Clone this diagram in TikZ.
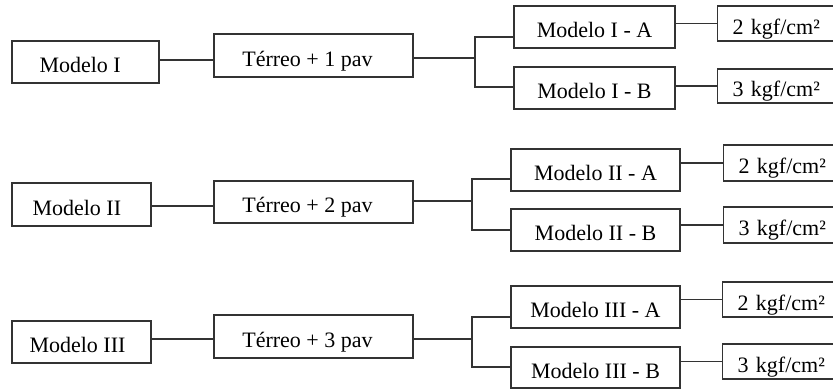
\documentclass[tikz,border=0pt]{standalone}
\usepackage{fontspec}
\setmainfont{Liberation Serif}
\begin{document}
\begin{tikzpicture}[x=0.75pt,y=-0.75pt,
  box/.style={draw=black!80,line width=0.9pt,fill=white,inner sep=0pt,
    text height=15.75pt,text depth=0pt,
    font=\fontsize{16.5}{19}\selectfont},
  kbox/.style={box,anchor=west,text width=100*0.75pt,inner xsep=15*0.75pt,align=left},
  conn/.style={draw=black!80,line width=0.9pt}]
\useasboundingbox (0,0) rectangle (833,390);
\clip (0,0) rectangle (833,390);
% Row 1
\node[box,minimum width=147*0.75pt,minimum height=42*0.75pt] (m1) at (85.5,62) {Modelo I\kern8pt};
\node[box,minimum width=199*0.75pt,minimum height=43*0.75pt] (t1) at (313.5,55.5) {Térreo + 1 pav\kern9pt};
\node[box,minimum width=161*0.75pt,minimum height=42*0.75pt] (a1) at (594.5,27) {Modelo I - A};
\node[box,minimum width=161*0.75pt,minimum height=42*0.75pt] (b1) at (594.5,88) {Modelo I - B};
\node[kbox,minimum height=35*0.75pt] (p1) at (717,23.5) {2 kgf/cm²};
\node[kbox,minimum height=34*0.75pt] (q1) at (717,86) {3 kgf/cm²};
\coordinate (j1) at (475,58);
\coordinate (ja1) at (475,37);
\coordinate (jb1) at (475,87);
\coordinate (c1) at (159,60);
\draw[conn] (c1) -- (c1 -| t1.west);
\draw[conn] (j1 -| t1.east) -- (j1);
\draw[conn] (a1.west |- ja1) -- (ja1) -- (jb1) -- (b1.west |- jb1);
\draw[conn] (p1.west -| a1.east) -- (p1.west);
\draw[conn] (q1.west -| b1.east) -- (q1.west);
% Row 2
\node[box,minimum width=139*0.75pt,minimum height=43*0.75pt] (m2) at (81.5,204.5) {Modelo II\kern7pt};
\node[box,minimum width=199*0.75pt,minimum height=42*0.75pt] (t2) at (313.5,202) {Térreo + 2 pav\kern9pt};
\node[box,minimum width=169*0.75pt,minimum height=42*0.75pt] (a2) at (595.5,170) {Modelo II - A};
\node[box,minimum width=169*0.75pt,minimum height=42*0.75pt] (b2) at (595.5,230) {Modelo II - B};
\node[kbox,minimum height=36*0.75pt] (p2) at (723,163) {2 kgf/cm²};
\node[kbox,minimum height=36*0.75pt] (q2) at (723,225) {3 kgf/cm²};
\coordinate (j2) at (472,201);
\coordinate (ja2) at (472,179);
\coordinate (jb2) at (472,230);
\coordinate (c2) at (151,206);
\draw[conn] (c2) -- (c2 -| t2.west);
\draw[conn] (j2 -| t2.east) -- (j2);
\draw[conn] (a2.west |- ja2) -- (ja2) -- (jb2) -- (b2.west |- jb2);
\draw[conn] (p2.west -| a2.east) -- (p2.west);
\draw[conn] (q2.west -| b2.east) -- (q2.west);
% Row 3
\node[box,minimum width=139*0.75pt,minimum height=42*0.75pt] (m3) at (81.5,342) {Modelo III\kern6pt};
\node[box,minimum width=199*0.75pt,minimum height=43*0.75pt] (t3) at (313.5,336.5) {Térreo + 3 pav\kern9pt};
\node[box,minimum width=169*0.75pt,minimum height=42*0.75pt] (a3) at (595.5,307) {Modelo III - A};
\node[box,minimum width=169*0.75pt,minimum height=41*0.75pt] (b3) at (595.5,367.5) {Modelo III - B};
\node[kbox,minimum height=35*0.75pt] (p3) at (722,299.5) {2 kgf/cm²};
\node[kbox,minimum height=35*0.75pt] (q3) at (722,361.5) {3 kgf/cm²};
\coordinate (j3) at (472,339);
\coordinate (ja3) at (472,317);
\coordinate (jb3) at (472,367);
\coordinate (c3) at (151,339);
\draw[conn] (c3) -- (c3 -| t3.west);
\draw[conn] (j3 -| t3.east) -- (j3);
\draw[conn] (a3.west |- ja3) -- (ja3) -- (jb3) -- (b3.west |- jb3);
\draw[conn] (p3.west -| a3.east) -- (p3.west);
\draw[conn] (q3.west -| b3.east) -- (q3.west);
\end{tikzpicture}
\end{document}
